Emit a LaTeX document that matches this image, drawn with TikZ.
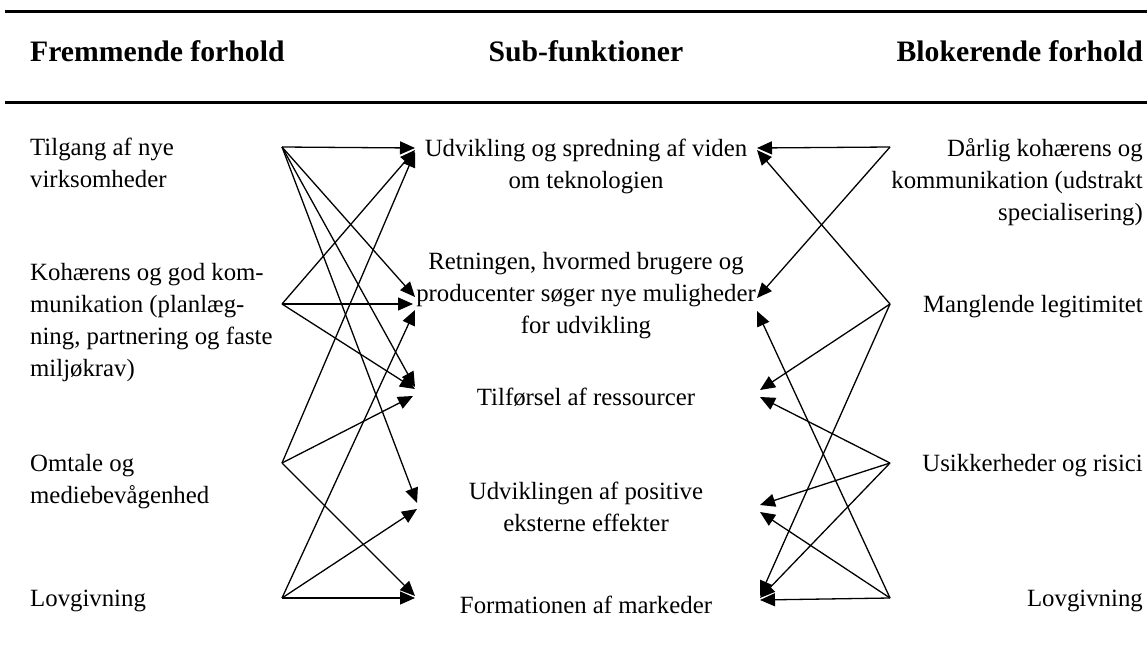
\documentclass[tikz,border=0pt]{standalone}
\usepackage{fontspec}
\setmainfont{Liberation Serif}
\usetikzlibrary{arrows.meta}
\begin{document}
\begin{tikzpicture}[x=1pt,y=-1pt,
  txt/.style={inner sep=0pt,font=\fontsize{24.8}{32}\selectfont},
  head/.style={inner sep=0pt,font=\fontsize{29.7}{34}\selectfont\bfseries,anchor=base},
  rule/.style={line width=3pt},
  link/.style={line width=1.3pt,-{Triangle[length=15pt,width=13pt]}}]
\useasboundingbox (0,0) rectangle (1147,661);

% header rules and column titles
\draw[rule] (5,12) -- (1147,12);
\draw[rule] (5,102) -- (1147,102);
\node[head,anchor=base west] (hL) at (30,61) {Fremmende forhold};
\node[head] (hM) at (586,61) {Sub-funktioner};
\node[head,anchor=base east] (hR) at (1143,61) {Blokerende forhold};

% promoting conditions (positions give the baseline of the last line)
\node[txt,anchor=base west,align=left] (nL1) at (30,187) {Tilgang af nye\\virksomheder};
\node[txt,anchor=base west,align=left] (nL2) at (30,376) {Kohærens og god kom-\\munikation (planlæg-\\ning, partnering og faste\\miljøkrav)};
\node[txt,anchor=base west,align=left] (nL3) at (30,503) {Omtale og\\mediebevågenhed};
\node[txt,anchor=base west,align=left] (nL4) at (30,606) {Lovgivning};

% sub-functions
\node[txt,anchor=base,align=center] (nT1) at (586,188) {Udvikling og spredning af viden\\om teknologien};
\node[txt,anchor=base,align=center] (nT2) at (586,333) {Retningen, hvormed brugere og\\producenter søger nye muligheder\\for udvikling};
\node[txt,anchor=base,align=center] (nT3) at (586,405) {Tilførsel af ressourcer};
\node[txt,anchor=base,align=center] (nT4) at (586,531) {Udviklingen af positive\\eksterne effekter};
\node[txt,anchor=base,align=center] (nT5) at (586,613) {Formationen af markeder};

% blocking conditions
\node[txt,anchor=base east,align=right] (nR1) at (1143,220) {Dårlig kohærens og\\kommunikation (udstrakt\\specialisering)};
\node[txt,anchor=base east,align=right] (nR2) at (1143,312) {Manglende legitimitet};
\node[txt,anchor=base east,align=right] (nR3) at (1143,471) {Usikkerheder og risici};
\node[txt,anchor=base east,align=right] (nR4) at (1143,606) {Lovgivning};

% start points of the connectors
\coordinate (L1) at (282,147);
\coordinate (L2) at (282,304);
\coordinate (L3) at (282,463);
\coordinate (L4) at (282,598);
\coordinate (R1) at (890,147);
\coordinate (R2) at (890,304);
\coordinate (R3) at (890,463);
\coordinate (R4) at (890,598);

% arrow tips beside the sub-functions (left side)
\coordinate (a11) at (415,148);
\coordinate (a12) at (415,150);
\coordinate (a13) at (415,152);
\coordinate (a21) at (415,297);
\coordinate (a22) at (413,304);
\coordinate (a24) at (415,310);
\coordinate (a31) at (415,387);
\coordinate (a32) at (415,389);
\coordinate (a33) at (413,396);
\coordinate (a41) at (417,503);
\coordinate (a44) at (417,509);
\coordinate (a53) at (415,596);
\coordinate (a54) at (415,598);

% arrow tips beside the sub-functions (right side)
\coordinate (b11) at (757,148);
\coordinate (b12) at (757,150);
\coordinate (b21) at (757,298);
\coordinate (b24) at (757,311);
\coordinate (b32) at (760,390);
\coordinate (b33) at (760,397);
\coordinate (b43) at (760,505);
\coordinate (b44) at (760,512);
\coordinate (b52) at (760,596);
\coordinate (b53) at (760,598);
\coordinate (b54) at (760,600);

% promoting conditions -> sub-functions
\draw[link] (L1) -- (a11);
\draw[link] (L1) -- (a21);
\draw[link] (L1) -- (a31);
\draw[link] (L1) -- (a41);
\draw[link] (L2) -- (a12);
\draw[link] (L2) -- (a22);
\draw[link] (L2) -- (a32);
\draw[link] (L3) -- (a13);
\draw[link] (L3) -- (a33);
\draw[link] (L3) -- (a53);
\draw[link] (L4) -- (a24);
\draw[link] (L4) -- (a44);
\draw[link] (L4) -- (a54);

% blocking conditions -> sub-functions
\draw[link] (R1) -- (b11);
\draw[link] (R1) -- (b21);
\draw[link] (R2) -- (b12);
\draw[link] (R2) -- (b32);
\draw[link] (R2) -- (b52);
\draw[link] (R3) -- (b33);
\draw[link] (R3) -- (b43);
\draw[link] (R3) -- (b53);
\draw[link] (R4) -- (b24);
\draw[link] (R4) -- (b44);
\draw[link] (R4) -- (b54);
\end{tikzpicture}
\end{document}
